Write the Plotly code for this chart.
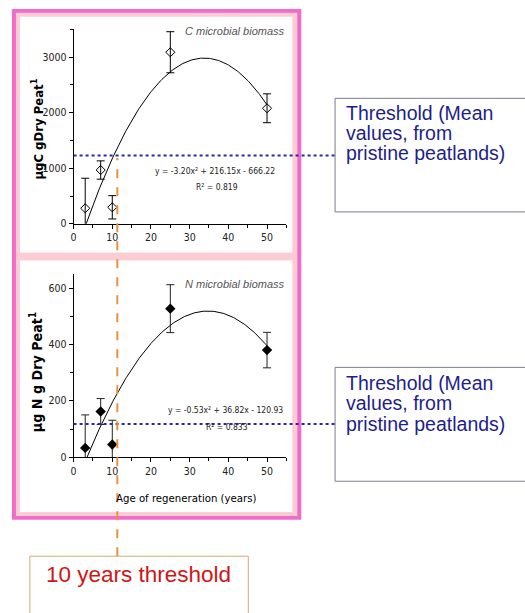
import plotly.graph_objects as go
import numpy as np

W, H = 525, 613

# ---------------- data ----------------
ages = [3, 7, 10, 25, 50]
c_biomass = [280, 968, 297, 3089, 2080]
c_err = [540, 165, 210, 370, 260]
n_biomass = [33, 162, 45, 527, 380]
n_err = [117, 46, 86, 85, 63]
c_fit = [-3.20, 216.15, -666.22]   # a, b, c  (y = a x^2 + b x + c)
n_fit = [-0.53, 36.82, -120.93]
c_threshold = 1230
n_threshold = 118
age_threshold = 11.3
x_ticks = [0, 10, 20, 30, 40, 50]

def px(x):
    return x / W

def py(y):
    return 1 - y / H

NARROW = "DejaVu Sans Condensed, Liberation Sans Narrow, Liberation Sans, sans-serif"
ARIAL = "Liberation Sans, Arial, sans-serif"

fig = go.Figure()

xf = np.linspace(ages[0], ages[-1], 200)
fig.add_trace(go.Scatter(x=xf, y=np.polyval(c_fit, xf), mode="lines",
                         line=dict(color="black", width=1), xaxis="x", yaxis="y",
                         hoverinfo="skip"))
fig.add_trace(go.Scatter(x=ages, y=c_biomass, mode="markers",
                         marker=dict(symbol="diamond-open", size=7, color="black",
                                     line=dict(width=1, color="black")),
                         error_y=dict(type="data", array=c_err, color="black",
                                      thickness=1, width=4),
                         xaxis="x", yaxis="y"))
fig.add_trace(go.Scatter(x=xf, y=np.polyval(n_fit, xf), mode="lines",
                         line=dict(color="black", width=1), xaxis="x2", yaxis="y2",
                         hoverinfo="skip"))
fig.add_trace(go.Scatter(x=ages, y=n_biomass, mode="markers",
                         marker=dict(symbol="diamond", size=8, color="black"),
                         error_y=dict(type="data", array=n_err, color="#222",
                                      thickness=1, width=4),
                         xaxis="x2", yaxis="y2"))

xdom = [px(71), px(285)]
axis_common = dict(showline=True, linecolor="black", linewidth=1, ticks="outside",
                   ticklen=4, tickcolor="black", showgrid=False, zeroline=False,
                   tickfont=dict(family=NARROW, size=10.5, color="#222"))

fig.update_layout(
    width=W, height=H, margin=dict(l=0, r=0, t=0, b=0),
    paper_bgcolor="white", plot_bgcolor="rgba(0,0,0,0)", showlegend=False,
    xaxis=dict(domain=xdom, range=[0, 55], anchor="y", tickvals=x_ticks,
               minor=dict(dtick=5, ticks="outside", ticklen=3, tickcolor="black"),
               **axis_common),
    yaxis=dict(domain=[py(226), py(29.7)], range=[0, 3500], anchor="x", dtick=1000,
               minor=dict(dtick=500, ticks="outside", ticklen=3, tickcolor="black"),
               **axis_common),
    xaxis2=dict(domain=xdom, range=[0, 55], anchor="y2", tickvals=x_ticks,
                minor=dict(dtick=5, ticks="outside", ticklen=3, tickcolor="black"),
                **axis_common),
    yaxis2=dict(domain=[py(461.7), py(276.7)], range=[0, 650], anchor="x2", dtick=200,
                minor=dict(dtick=100, ticks="outside", ticklen=3, tickcolor="black"),
                **axis_common),
)

shapes = []
# frame
shapes.append(dict(type="rect", xref="paper", yref="paper", x0=px(9), x1=px(300),
                   y0=py(525), y1=py(9), fillcolor="#f06ccb", line=dict(width=0), layer="below"))
shapes.append(dict(type="rect", xref="paper", yref="paper", x0=px(13), x1=px(296),
                   y0=py(521), y1=py(13), fillcolor="#fcccd4", line=dict(width=0), layer="below"))
shapes.append(dict(type="rect", xref="paper", yref="paper", x0=px(17), x1=px(291),
                   y0=py(255), y1=py(17), fillcolor="white", line=dict(width=0), layer="below"))
shapes.append(dict(type="rect", xref="paper", yref="paper", x0=px(17), x1=px(291),
                   y0=py(517), y1=py(263), fillcolor="white", line=dict(width=0), layer="below"))
# threshold boxes
for top, bot in [(99.3, 214), (371, 486)]:
    shapes.append(dict(type="rect", xref="paper", yref="paper", x0=px(334), x1=px(570),
                       y0=py(bot), y1=py(top), fillcolor="white",
                       line=dict(color="#7a7a98", width=1), layer="below"))
# 10 years box
shapes.append(dict(type="rect", xref="paper", yref="paper", x0=px(27), x1=px(246.7),
                   y0=py(660), y1=py(561.7), fillcolor="white",
                   line=dict(color="#d8a878", width=1), layer="below"))
# dotted threshold lines
shapes.append(dict(type="line", xref="paper", yref="y", x0=px(71), x1=px(334),
                   y0=c_threshold, y1=c_threshold, line=dict(color="#2a2aa0", width=2, dash="dot")))
shapes.append(dict(type="line", xref="paper", yref="y2", x0=px(71), x1=px(334),
                   y0=n_threshold, y1=n_threshold, line=dict(color="#2a2aa0", width=2, dash="dot")))
# orange dashed age threshold
shapes.append(dict(type="line", xref="x", yref="paper", x0=age_threshold, x1=age_threshold,
                   y0=py(561.7), y1=py(159.5), line=dict(color="#e8923a", width=2, dash="dash")))
fig.update_layout(shapes=shapes)

ann = []
def text(x, y, t, size, color="black", family=ARIAL, xanchor="center", yanchor="middle",
         angle=0):
    ann.append(dict(xref="paper", yref="paper", x=px(x), y=py(y), text=t, showarrow=False,
                    font=dict(size=size, color=color, family=family), xanchor=xanchor,
                    yanchor=yanchor, textangle=angle))

text(286, 31, "<i>C microbial biomass</i>", 11, "#555", ARIAL, xanchor="right")
text(286, 287, "<i>N microbial biomass</i>", 11, "#555", ARIAL, xanchor="right")
text(213, 173, "y = -3.20x² + 216.15x - 666.22", 8.5, "#222", NARROW)
text(215, 188.5, "R² = 0.819", 8.5, "#222", NARROW)
text(224, 414.5, "y = -0.53x² + 36.82x - 120.93", 8.5, "#222", NARROW)
text(225, 431, "R² = 0.833", 8.5, "#222", NARROW)
text(34, 130, "<b>µgC gDry Peat<sup>1</sup></b>", 13, "black", NARROW, angle=-90)
text(34, 376, "<b>µg N g Dry Peat<sup>1</sup></b>", 14.2, "black", NARROW, angle=-90)
text(184.5, 503, "Age of regeneration (years)", 11.3, "black", NARROW)

for base in (120, 393):
    for i, line in enumerate(["Threshold (Mean", "values, from", "pristine peatlands)"]):
        text(343, base + 7 + 20.5 * i, line, 19.5, "#1e1e8c", ARIAL, xanchor="left", yanchor="bottom")

text(41, 595, "10 years threshold", 22.5, "#d01515", ARIAL, xanchor="left", yanchor="bottom")
fig.update_layout(annotations=ann)

fig.write_html("out.html")
